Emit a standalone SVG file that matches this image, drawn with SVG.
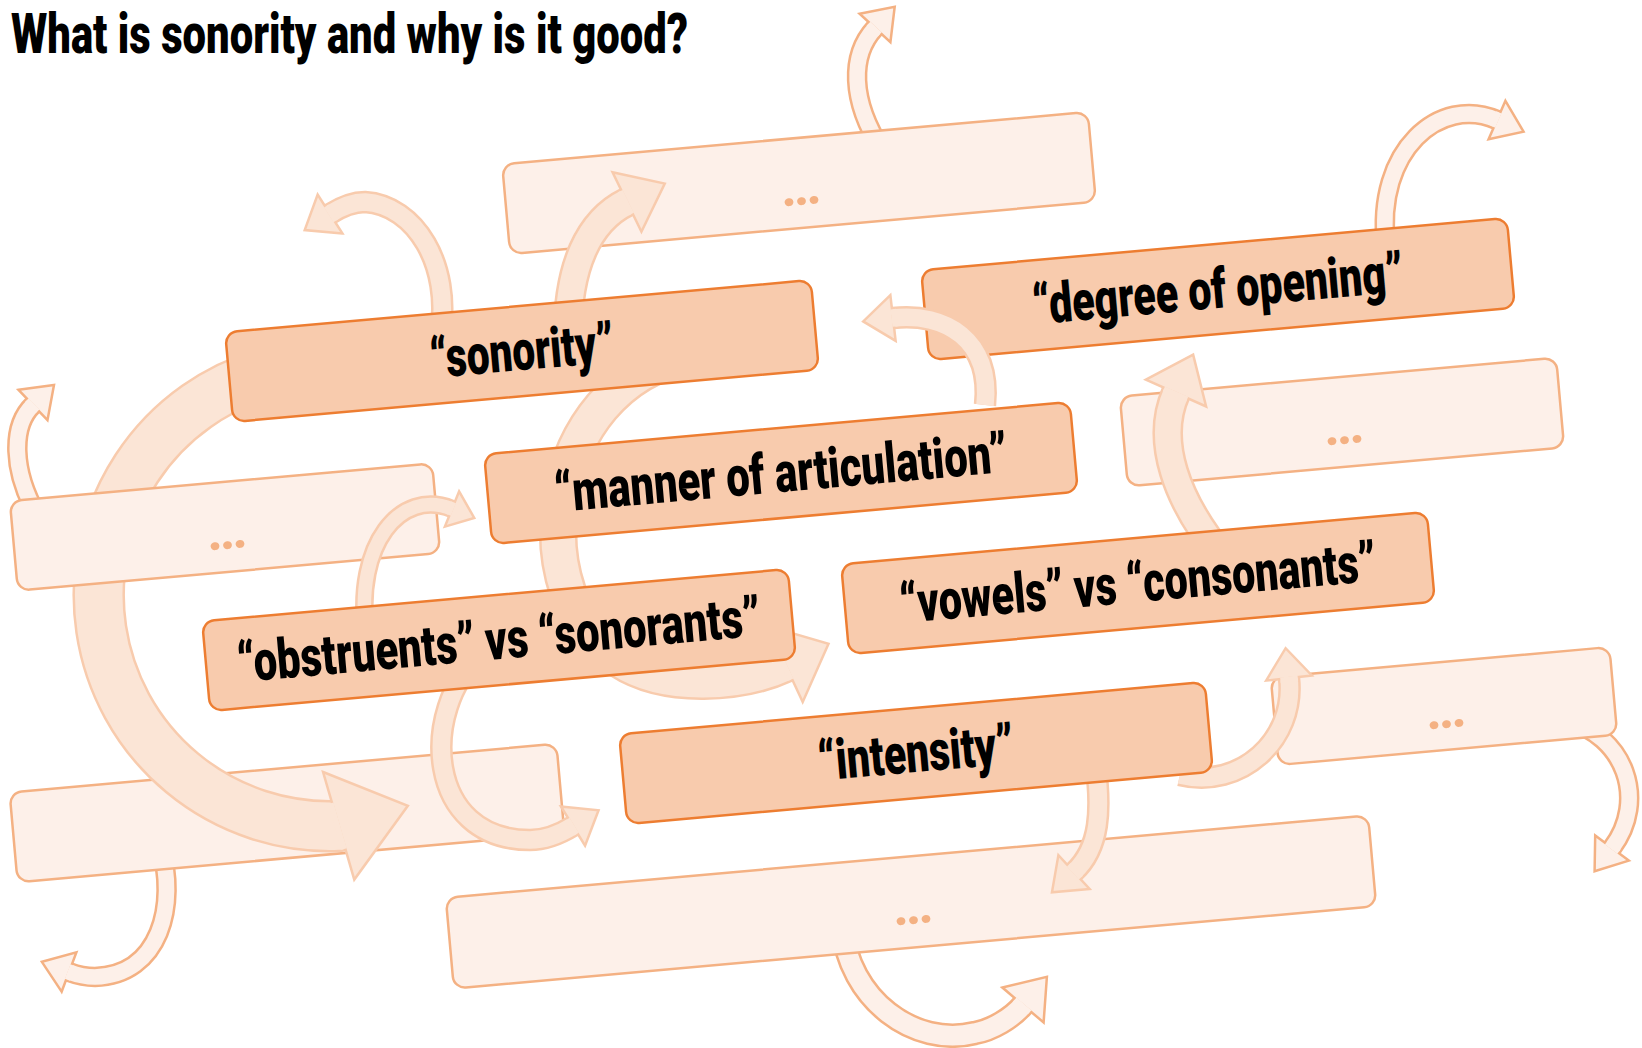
<svg xmlns="http://www.w3.org/2000/svg" width="1642" height="1048" viewBox="0 0 1642 1048">
<style>
.main{fill:#f8cbad;stroke:#ed7d31;stroke-width:2.5}
.faded{fill:#fdf0e9;stroke:#f4b183;stroke-width:2.5}
.lbl{font-family:Roboto,"Liberation Sans",sans-serif;font-weight:900;font-size:56px;fill:#000;text-anchor:middle}
.title{font-family:Roboto,"Liberation Sans",sans-serif;font-weight:900;font-size:55px;fill:#000}
.dots{font-family:Roboto,"Liberation Sans",sans-serif;font-weight:900;font-size:48px;fill:#f4b183;text-anchor:middle;letter-spacing:-2px}
.aO{fill:none;stroke:#f8cbad}
.aI{fill:none;stroke:#fbe5d6}
.bO{fill:none;stroke:#f4b183}
.bI{fill:none;stroke:#fdf0e9}
.hA{fill:#fbe5d6;stroke:#f8cbad;stroke-width:2.5}
.hB{fill:#fdf0e9;stroke:#f4b183;stroke-width:2.5}
.cA{fill:#fbe5d6}
.cB{fill:#fdf0e9}
</style>
<defs>
<marker id="mA-xs" markerUnits="userSpaceOnUse" orient="auto" refX="0" refY="0" markerWidth="1" markerHeight="1" style="overflow:visible"><polygon class="hA" points="0,-19 24,0 0,19"/><rect class="cA" x="-4" y="-6.75" width="5.5" height="13.5"/></marker>
<marker id="mA-s" markerUnits="userSpaceOnUse" orient="auto" refX="0" refY="0" markerWidth="1" markerHeight="1" style="overflow:visible"><polygon class="hA" points="0,-23 30,0 0,23"/><rect class="cA" x="-4" y="-8.75" width="5.5" height="17.5"/></marker>
<marker id="mA-m" markerUnits="userSpaceOnUse" orient="auto" refX="0" refY="0" markerWidth="1" markerHeight="1" style="overflow:visible"><polygon class="hA" points="0,-33 42,0 0,33"/><rect class="cA" x="-4" y="-12.75" width="5.5" height="25.5"/></marker>
<marker id="mA-l" markerUnits="userSpaceOnUse" orient="auto" refX="0" refY="0" markerWidth="1" markerHeight="1" style="overflow:visible"><polygon class="hA" points="0,-42 48,0 0,42"/><rect class="cA" x="-4" y="-16.75" width="5.5" height="33.5"/></marker>
<marker id="mA-xl" markerUnits="userSpaceOnUse" orient="auto" refX="0" refY="0" markerWidth="1" markerHeight="1" style="overflow:visible"><polygon class="hA" points="0,-56 72,0 0,56"/><rect class="cA" x="-4" y="-23.75" width="5.5" height="47.5"/></marker>
<marker id="mB-s" markerUnits="userSpaceOnUse" orient="auto" refX="0" refY="0" markerWidth="1" markerHeight="1" style="overflow:visible"><polygon class="hB" points="0,-21 29,0 0,21"/><rect class="cB" x="-4" y="-7.75" width="5.5" height="15.5"/></marker>
<marker id="mB-m" markerUnits="userSpaceOnUse" orient="auto" refX="0" refY="0" markerWidth="1" markerHeight="1" style="overflow:visible"><polygon class="hB" points="0,-27 37,0 0,27"/><rect class="cB" x="-4" y="-9.75" width="5.5" height="19.5"/></marker>
</defs>
<rect width="1642" height="1048" fill="#fff"/>

<g id="connectors-outer">
  <g id="e-top-out"><path class="bO" stroke-width="20.5" d="M 882 150 C 850 100, 850 55, 875 28"/><path class="bI" stroke-width="15.5" marker-end="url(#mB-s)" d="M 882 150 C 850 100, 850 55, 875 28"/></g>
  <g id="e-degree-out"><path class="bO" stroke-width="20.5" d="M 1386 245 C 1375 150, 1440 95, 1497 120"/><path class="bI" stroke-width="15.5" marker-end="url(#mB-s)" d="M 1386 245 C 1375 150, 1440 95, 1497 120"/></g>
  <g id="e-left-out"><path class="bO" stroke-width="20.5" d="M 40 520 C 10 470, 12 425, 33 405"/><path class="bI" stroke-width="15.5" marker-end="url(#mB-s)" d="M 40 520 C 10 470, 12 425, 33 405"/></g>
  <g id="e-bl-out"><path class="bO" stroke-width="20.5" d="M 160 845 C 178 905, 160 975, 95 977 C 85 977, 77 975, 69 972"/><path class="bI" stroke-width="15.5" marker-end="url(#mB-s)" d="M 160 845 C 178 905, 160 975, 95 977 C 85 977, 77 975, 69 972"/></g>
  <g id="e-rl-out"><path class="bO" stroke-width="20.5" d="M 1565 720 C 1625 735, 1648 800, 1612 848"/><path class="bI" stroke-width="15.5" marker-end="url(#mB-s)" d="M 1565 720 C 1625 735, 1648 800, 1612 848"/></g>
  <g id="e-bottom-out"><path class="bO" stroke-width="24.5" d="M 842 925 C 848 1000, 915 1048, 975 1033 C 992 1030, 1012 1018, 1023 1005"/><path class="bI" stroke-width="19.5" marker-end="url(#mB-m)" d="M 842 925 C 848 1000, 915 1048, 975 1033 C 992 1030, 1012 1018, 1023 1005"/></g>
</g>

<g id="n-bottomleft" transform="translate(287 813) rotate(-5.1)"><rect class="faded" x="-274.5" y="-45" width="549" height="90" rx="12"/></g>

<g id="connectors-big">
  <g id="e-sonority-bottomleft"><path class="aO" stroke-width="52.5" d="M 270 372 A 231 231 0 0 0 338 826 l 0.69 -0.2"/><path class="aI" stroke-width="47.5" marker-end="url(#mA-xl)" d="M 270 372 A 231 231 0 0 0 338 826 l 0.69 -0.2"/></g>
</g>

<g id="n-left" transform="translate(225 527) rotate(-5.1)"><rect class="faded" x="-212" y="-45" width="424" height="90" rx="12"/><text class="dots" x="0" y="22">...</text></g>
<g id="n-top" transform="translate(799 183) rotate(-5.1)"><rect class="faded" x="-294" y="-45" width="588" height="90" rx="12"/><text class="dots" x="0" y="22">...</text></g>
<g id="n-right" transform="translate(1342 422) rotate(-5.1)"><rect class="faded" x="-219" y="-45" width="438" height="90" rx="12"/><text class="dots" x="0" y="22">...</text></g>
<g id="n-rightlower" transform="translate(1444 706) rotate(-5.1)"><rect class="faded" x="-170" y="-44" width="340" height="88" rx="12"/><text class="dots" x="0" y="22">...</text></g>
<g id="n-bottom" transform="translate(911 902) rotate(-5.1)"><rect class="faded" x="-463" y="-45.5" width="926" height="91" rx="12"/><text class="dots" x="0" y="22">...</text></g>

<g id="n-degree" transform="translate(1218 289) rotate(-5.1)"><rect class="main" x="-294" y="-45" width="588" height="90" rx="12"/><text class="lbl" x="0" y="19" textLength="372" lengthAdjust="spacingAndGlyphs">“degree of opening”</text></g>

<g id="connectors">
  <g id="e-sonority-out"><path class="aO" stroke-width="22.5" d="M 440 335 C 452 265, 415 205, 365 202 C 352 202, 341 207, 330 214"/><path class="aI" stroke-width="17.5" marker-end="url(#mA-s)" d="M 440 335 C 452 265, 415 205, 365 202 C 352 202, 341 207, 330 214"/></g>
  <g id="e-sonority-top"><path class="aO" stroke-width="30.5" d="M 568 345 C 566 265, 590 220, 627 202"/><path class="aI" stroke-width="25.5" marker-end="url(#mA-m)" d="M 568 345 C 566 265, 590 220, 627 202"/></g>
  <g id="e-manner-degree"><path class="aO" stroke-width="22.5" d="M 985 405 C 992 340, 945 312, 893 318"/><path class="aI" stroke-width="17.5" marker-end="url(#mA-s)" d="M 985 405 C 992 340, 945 312, 893 318"/></g>
  <g id="e-vowels-right"><path class="aO" stroke-width="30.5" d="M 1225 560 C 1175 500, 1155 440, 1176 393"/><path class="aI" stroke-width="25.5" marker-end="url(#mA-m)" d="M 1225 560 C 1175 500, 1155 440, 1176 393"/></g>
  <g id="e-obstruents-left"><path class="aO" stroke-width="18.5" d="M 366 632 C 355 545, 400 488, 452 509"/><path class="aI" stroke-width="13.5" marker-end="url(#mA-xs)" d="M 366 632 C 355 545, 400 488, 452 509"/></g>
  <g id="e-sonority-vowels"><path class="aO" stroke-width="38.5" d="M 690 355 C 540 385, 520 600, 620 660 C 666 690, 742 684, 785 664"/><path class="aI" stroke-width="33.5" marker-end="url(#mA-l)" d="M 690 355 C 540 385, 520 600, 620 660 C 666 690, 742 684, 785 664"/></g>
  <g id="e-obstruents-bottomleft"><path class="aO" stroke-width="22.5" d="M 480 655 C 420 710, 425 840, 530 840 C 545 840, 560 834, 573 826"/><path class="aI" stroke-width="17.5" marker-end="url(#mA-s)" d="M 480 655 C 420 710, 425 840, 530 840 C 545 840, 560 834, 573 826"/></g>
  <g id="e-intensity-bottom"><path class="aO" stroke-width="22.5" d="M 1095 760 C 1102 810, 1100 848, 1074 872"/><path class="aI" stroke-width="17.5" marker-end="url(#mA-s)" d="M 1095 760 C 1102 810, 1100 848, 1074 872"/></g>
  <g id="e-intensity-rightlower"><path class="aO" stroke-width="22.5" d="M 1180 775 C 1240 790, 1296 740, 1289 678"/><path class="aI" stroke-width="17.5" marker-end="url(#mA-s)" d="M 1180 775 C 1240 790, 1296 740, 1289 678"/></g>
</g>

<g id="n-sonority" transform="translate(522 351) rotate(-5.1)"><rect class="main" x="-294" y="-45" width="588" height="90" rx="12"/><text class="lbl" x="0" y="19" textLength="184" lengthAdjust="spacingAndGlyphs">“sonority”</text></g>
<g id="n-manner" transform="translate(781 473) rotate(-5.1)"><rect class="main" x="-294" y="-45" width="588" height="90" rx="12"/><text class="lbl" x="0" y="19" textLength="454" lengthAdjust="spacingAndGlyphs">“manner of articulation”</text></g>
<g id="n-obstruents" transform="translate(499 640) rotate(-5.1)"><rect class="main" x="-294" y="-45" width="588" height="90" rx="12"/><text class="lbl" x="0" y="19" textLength="525" lengthAdjust="spacingAndGlyphs">“obstruents” vs “sonorants”</text></g>
<g id="n-vowels" transform="translate(1138 583) rotate(-5.1)"><rect class="main" x="-294" y="-45" width="588" height="90" rx="12"/><text class="lbl" x="0" y="19" textLength="478" lengthAdjust="spacingAndGlyphs">“vowels” vs “consonants”</text></g>
<g id="n-intensity" transform="translate(916 753) rotate(-5.1)"><rect class="main" x="-294" y="-45" width="588" height="90" rx="12"/><text class="lbl" x="0" y="19" textLength="196" lengthAdjust="spacingAndGlyphs">“intensity”</text></g>

<text class="title" x="11" y="53" textLength="677" lengthAdjust="spacingAndGlyphs">What is sonority and why is it good?</text>
</svg>
